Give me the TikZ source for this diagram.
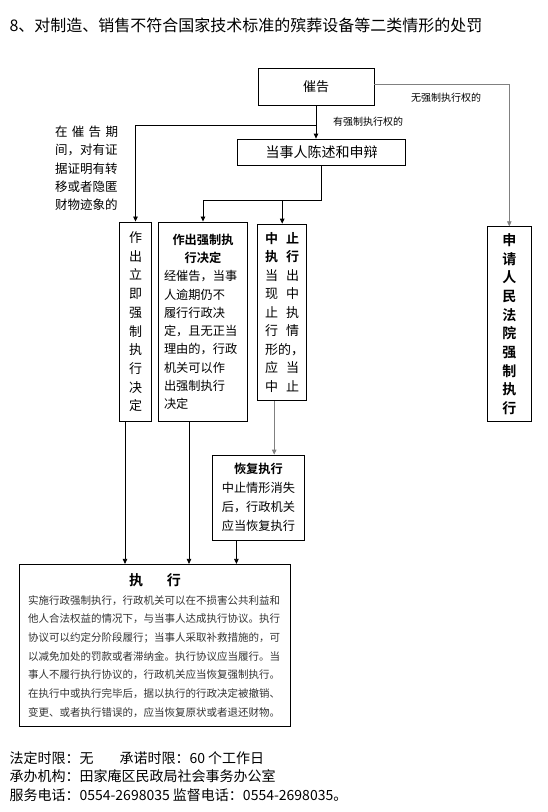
\documentclass[tikz,border=0pt]{standalone}
\usepackage{fontspec}
\usepackage{tikz}
\usetikzlibrary{arrows.meta}
\newfontfamily\cjk{Noto Sans CJK SC}[BoldFont={Noto Sans CJK SC Bold}]
\newcommand{\fs}[2]{\fontsize{#1}{#2}\selectfont}

\begin{document}
\begin{tikzpicture}[x=1pt,y=-1pt,font=\cjk,
  box/.style={draw,line width=0.8pt,inner sep=0pt,align=center},
  conn/.style={line width=0.8pt,-{Triangle[length=5pt,width=4.5pt]}},
  grayconn/.style={conn,draw=black!50}]
  \useasboundingbox (0,0) rectangle (547,812);

  % title
  \node[anchor=west,font=\cjk\fs{16}{19}] (title) at (6,25)
    {8、对制造、销售不符合国家技术标准的殡葬设备等二类情形的处罚};

  % boxes
  \node[box,minimum width=116pt,minimum height=37pt,font=\cjk\fs{13}{15}] (cuigao) at (316,86.5) {催告};
  \node[box,minimum width=168pt,minimum height=26pt,font=\cjk\fs{14}{16}] (chenshu) at (321.7,152) {当事人陈述和申辩};
  \node[box,minimum width=32.4pt,minimum height=199.7pt,font=\cjk\fs{13}{18.7}] (lijie) at (135.5,321.8)
    {作\\出\\立\\即\\强\\制\\执\\行\\决\\定};
  \node[box,minimum width=89.7pt,minimum height=199.7pt,text width=78pt,align=left,font=\cjk\fs{12.2}{18.3}] (zuochu) at (203,321.8)
    {\makebox[78pt][c]{\bfseries 作出强制执}\\
     \makebox[78pt][c]{\bfseries 行决定}\\
     经催告，当事\\人逾期仍不\\履行行政决\\定，且无正当\\理由的，行政\\机关可以作\\出强制执行\\决定};
  \node[box,minimum width=49pt,minimum height=176.7pt,text width=34pt,align=left,font=\cjk\fs{13}{18.5}] (zhongzhi) at (282.2,312.4)
    {\textbf{中}\hfill\textbf{止}\\\textbf{执}\hfill\textbf{行}\\当\hfill 出\\现\hfill 中\\止\hfill 执\\行\hfill 情\\形的，\\应\hfill 当\\中\hfill 止};
  \node[box,minimum width=44pt,minimum height=195pt,font=\cjk\bfseries\fs{14}{18.7}] (shenqing) at (509.3,324.2)
    {申\\请\\人\\民\\法\\院\\强\\制\\执\\行};
  \node[box,minimum width=91.3pt,minimum height=85pt,font=\cjk\fs{12.2}{19}] (huifu) at (258.4,497.5)
    {\textbf{恢复执行}\\中止情形消失\\后，行政机关\\应当恢复执行};
  \node[box,minimum width=271.4pt,minimum height=162.4pt,text width=254pt,align=left,
        font=\cjk\fs{10.5}{18.7},text=black!80] (zhixing) at (155,645.5)
    {\makebox[254pt][c]{\color{black}\bfseries\fs{14}{17}执\hspace{24pt}行}\\
     实施行政强制执行，行政机关可以在不损害公共利益和\\
     他人合法权益的情况下，与当事人达成执行协议。执行\\
     协议可以约定分阶段履行；当事人采取补救措施的，可\\
     以减免加处的罚款或者滞纳金。执行协议应当履行。当\\
     事人不履行执行协议的，行政机关应当恢复强制执行。\\
     在执行中或执行完毕后，据以执行的行政决定被撤销、\\
     变更、或者执行错误的，应当恢复原状或者退还财物。};

  % labels
  \node[text width=63pt,align=left,font=\cjk\fs{12.5}{18.3}] (qijian) at (86.5,168.5)
    {在\hfill 催\hfill 告\hfill 期\\间，对有证\\据证明有转\\移或者隐匿\\财物迹象的};
  \node[font=\cjk\fs{10}{12}] (wuquan) at (446,98) {无强制执行权的};
  \node[font=\cjk\fs{10}{12}] (youquan) at (368,122) {有强制执行权的};

  % connectors
  \coordinate (fork1) at (316,125.7);
  \coordinate (fork2) at (321.7,200);
  \draw[conn] (cuigao.south) -- (cuigao.south |- chenshu.north);
  \draw[conn] (fork1) -| (lijie.north);
  \draw[grayconn] ([yshift=2.5pt]cuigao.east) -| (shenqing.north);
  \draw[line width=0.8pt] (chenshu.south) -- (fork2);
  \draw[conn] (fork2) -| (zuochu.north);
  \draw[conn] (fork2 -| zhongzhi.north) -- (zhongzhi.north);
  \draw[grayconn] ([xshift=-8pt]zhongzhi.south) -- ([xshift=-8pt]zhongzhi.south |- huifu.north);
  \draw[conn] ([xshift=-10.5pt]lijie.south) -- ([xshift=-10.5pt]lijie.south |- zhixing.north);
  \draw[conn] ([xshift=-14pt]zuochu.south) -- ([xshift=-14pt]zuochu.south |- zhixing.north);
  \draw[conn] ([xshift=-22pt]huifu.south) -- ([xshift=-22pt]huifu.south |- zhixing.north);

  % footer
  \node[anchor=north west,align=left,font=\cjk\fs{14}{18.5}] (footer) at (6,748)
    {法定时限：无\hspace{26pt}承诺时限：60 个工作日\\
     承办机构：田家庵区民政局社会事务办公室\\
     服务电话：0554-2698035 监督电话：0554-2698035。};
\end{tikzpicture}
\end{document}
